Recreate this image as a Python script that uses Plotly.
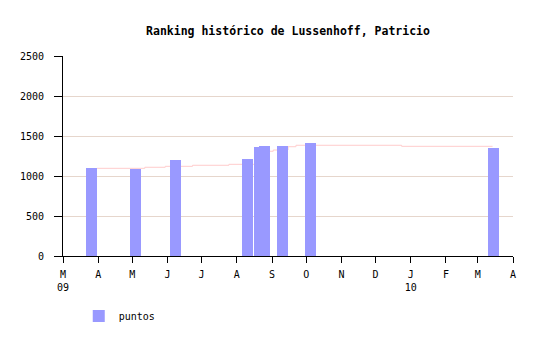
import plotly.graph_objects as go

# --- data ---
bar_dates = ["2009-03-26", "2009-05-04", "2009-06-08", "2009-08-10", "2009-08-21",
             "2009-08-25", "2009-09-10", "2009-10-05", "2010-03-15"]
bar_values = [1100, 1088, 1200, 1212, 1362, 1375, 1375, 1416, 1350]

line_dates = ["2009-03-31", "2009-05-12", "2009-05-30", "2009-06-23", "2009-07-25",
              "2009-08-23", "2009-09-02", "2009-09-15", "2009-09-22", "2009-12-24",
              "2010-03-14"]
line_values = [1096, 1109, 1121, 1134, 1146, 1309, 1325, 1366, 1384, 1371, 1371]

month_ticks = ["2009-03-01", "2009-04-01", "2009-05-01", "2009-06-01", "2009-07-01",
               "2009-08-01", "2009-09-01", "2009-10-01", "2009-11-01", "2009-12-01",
               "2010-01-01", "2010-02-01", "2010-03-01", "2010-04-01"]
month_labels = ["M<br>09", "A", "M", "J", "J", "A", "S", "O", "N", "D",
                "J<br>10", "F", "M", "A"]
y_ticks = [0, 500, 1000, 1500, 2000, 2500]

title = "Ranking histórico de Lussenhoff, Patricio"
series_name = "puntos"

DAY_MS = 86400000
bar_width = 9.7 * DAY_MS
mono = "DejaVu Sans Mono"

fig = go.Figure()
fig.add_trace(go.Scatter(
    x=line_dates, y=line_values, mode="lines", line=dict(color="#ffcccc", width=1, shape="hv"),
    showlegend=False, hoverinfo="skip", yaxis="y"))
fig.add_trace(go.Bar(
    x=bar_dates, y=bar_values, width=[bar_width] * len(bar_dates),
    marker=dict(color="#9999ff", line=dict(width=0)), name=series_name, yaxis="y2"))

fig.update_layout(
    width=540, height=340,
    margin=dict(l=63, r=27, t=56, b=84, autoexpand=False),
    paper_bgcolor="white", plot_bgcolor="white",
    font=dict(family=mono, size=10, color="black"),
    title=dict(text="<b>" + title + "</b>", x=0.5, xref="paper", xanchor="center",
               y=1 - 31 / 340, yanchor="middle", font=dict(family=mono, size=11.5, color="black")),
    xaxis=dict(type="date", range=["2009-03-01", "2010-04-01"], tickmode="array",
               tickvals=month_ticks, ticktext=month_labels, showgrid=False, zeroline=False,
               showline=True, linecolor="black", linewidth=1, ticks="outside", ticklen=6,
               tickcolor="black", ticklabelstandoff=3, tickfont=dict(family=mono, size=10)),
    yaxis=dict(range=[0, 2500], tickvals=y_ticks, showgrid=True, gridcolor="#e6d6cc",
               zeroline=False, showline=True, linecolor="black", linewidth=1,
               ticks="outside", ticklen=8, tickcolor="black", ticklabelstandoff=8,
               tickfont=dict(family=mono, size=10)),
    yaxis2=dict(range=[0, 2500], overlaying="y", visible=False),
    showlegend=True,
    legend=dict(x=0.035, xanchor="left", yref="container", y=1 - 301.5 / 340, yanchor="top",
                orientation="v", font=dict(family=mono, size=10), bgcolor="rgba(0,0,0,0)"),
    bargap=0,
)

fig.write_html("out.html")
